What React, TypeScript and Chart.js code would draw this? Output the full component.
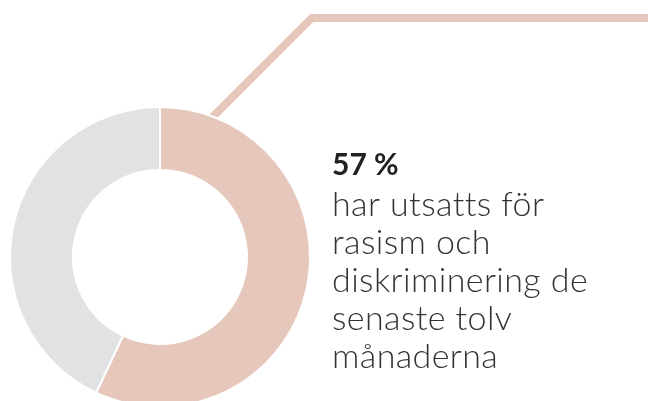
import React, { useEffect, useRef } from "react";
import { Chart, registerables } from "chart.js";

Chart.register(...registerables);

const categories = ["Utsatta", "Ej utsatta"];
const values = [57, 43];
const sliceColors = ["#e6c7bb", "#e1e2e4"];
const headline = "57 %";
const bodyLines = ["har utsatts för", "rasism och", "diskriminering de", "senaste tolv", "månaderna"];

const CANVAS_W = 648;
const CANVAS_H = 420;

export default function App() {
  const ref = useRef<HTMLCanvasElement>(null);

  useEffect(() => {
    document.body.style.margin = "0";
    const canvas = ref.current;
    if (!canvas) return;

    const calloutPlugin = {
      id: "callout",
      beforeDatasetsDraw(chart: any) {
        const arc = chart.getDatasetMeta(0).data[0];
        if (!arc) return;
        const { x, y, outerRadius } = arc.getProps(["x", "y", "outerRadius"], true);
        const theta = (20.7 * Math.PI) / 180; // from 12 o'clock, clockwise
        const px = x + outerRadius * Math.sin(theta);
        const py = y - outerRadius * Math.cos(theta);
        const elbowY = 18;
        const ctx = chart.ctx;
        ctx.save();
        ctx.strokeStyle = sliceColors[0];
        ctx.lineWidth = 8;
        ctx.lineJoin = "miter";
        ctx.beginPath();
        ctx.moveTo(px - 12, py + 12);
        ctx.lineTo(px + (py - elbowY), elbowY);
        ctx.lineTo(chart.width + 10, elbowY);
        ctx.stroke();
        ctx.restore();
      },
      afterDraw(chart: any) {
        const ctx = chart.ctx;
        const tx = 332;
        ctx.save();
        ctx.textAlign = "left";
        ctx.textBaseline = "alphabetic";
        ctx.fillStyle = "#222222";
        ctx.font = "700 30px Lato";
        ctx.fillText(headline, tx, 175);
        ctx.fillStyle = "#333333";
        ctx.font = "300 34px Lato";
        (ctx as any).letterSpacing = "0.4px";
        const baselines = [216, 254, 292, 330, 368];
        bodyLines.forEach((line, i) => ctx.fillText(line, tx, baselines[i]));
        ctx.restore();
      },
    };

    const chart = new Chart(canvas, {
      type: "doughnut",
      data: {
        labels: categories,
        datasets: [
          {
            data: values,
            backgroundColor: sliceColors,
            borderColor: "#ffffff",
            borderWidth: 2,
            hoverOffset: 0,
          },
        ],
      },
      options: {
        responsive: false,
        animation: false,
        cutout: "58%",
        layout: { padding: { left: 9, top: 106, right: 337, bottom: 12 } },
        plugins: {
          legend: { display: false },
          tooltip: { enabled: false },
        },
      },
      plugins: [calloutPlugin],
    });
    return () => chart.destroy();
  }, []);

  return (
    <div style={{ width: CANVAS_W, height: 401, overflow: "hidden", position: "relative", background: "#fff" }}>
      <canvas ref={ref} width={CANVAS_W} height={CANVAS_H} style={{ display: "block" }} />
    </div>
  );
}
